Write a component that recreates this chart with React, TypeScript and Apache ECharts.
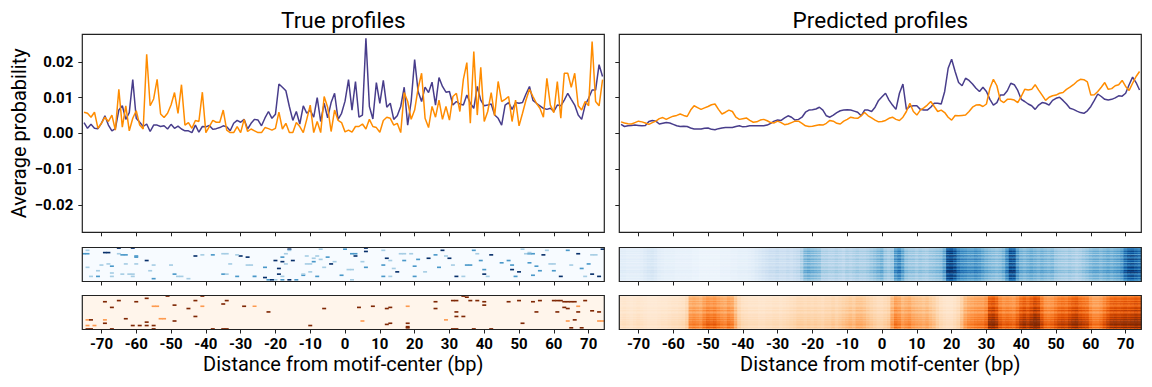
import React, { useEffect, useRef } from "react";
import * as echarts from "echarts";

// ---------- DATA ----------
// genomic positions (bp from motif center), one per column
const positions: string[] = [];
for (let p = -75; p <= 74; p++) positions.push(String(p));
const xTickLabels = [-70, -60, -50, -40, -30, -20, -10, 0, 10, 20, 30, 40, 50, 60, 70];
const yTickValues = [-0.02, -0.01, 0, 0.01, 0.02];
const rowCount = 30;

// average probability ×1e-3, positions -75..74
const truePurple = [
  3.0, 1.4, 2.5, 1.4, 1.3, 2.8, 4.9, 2.3, 0.7, 1.3,
  6.5, 7.7, 3.9, 5.8, 15.0, 4.2, 3.1, 1.9, 2.6, 0.5,
  2.3, 2.3, 1.9, 2.1, 1.2, 2.5, 1.4, 2.0, 1.2, 0.7,
  0.7, 0.2, 2.3, 0.3, 1.9, 1.8, 2.2, 1.1, 1.3, 1.6,
  2.1, 1.8, 0.7, 2.8, 3.6, 3.1, 3.9, 1.2, 2.8, 3.9,
  3.7, 2.1, 4.3, 6.1, 4.2, 5.3, 13.8, 12.9, 11.9, 7.5,
  3.6, 6.1, 2.6, 7.7, 5.6, 6.5, 4.5, 10.0, 3.3, 8.4,
  4.3, 8.6, 11.2, 3.9, 5.6, 9.0,
  15.0, 6.5, 14.5, 4.5, 5.1, 26.6, 7.5, 4.0, 14.2, 8.4,
  14.8, 7.3, 8.4, 3.9, 4.9, 7.5, 12.9, 2.3, 8.9, 20.6,
  11.7, 8.9, 12.9, 11.4, 14.3, 7.9, 15.6, 13.1, 11.5, 11.7,
  7.9, 8.9, 8.2, 7.9, 10.7, 8.4, 7.0, 13.1, 9.3, 7.7,
  7.9, 8.2, 5.1, 4.2, 2.3, 7.9, 8.6, 6.7, 8.6, 8.4,
  8.6, 11.0, 13.1, 9.2, 8.4, 7.7, 7.0, 6.7, 7.0, 6.1,
  7.9, 7.7, 9.3, 11.2, 9.5, 7.9, 5.1, 3.9, 7.9, 9.8,
  12.1, 12.1, 19.2, 15.9,
];
const trueOrange = [
  5.9, 5.6, 4.5, 5.9, 1.4, 2.8, 4.5, 3.3, 5.1, 0.9,
  12.3, 1.7, 7.7, 0.7, 4.2, 6.3, 2.3, 1.2, 22.1, 7.7,
  9.6, 15.1, 5.4, 4.4, 5.6, 7.9, 11.4, 5.6, 13.6, 2.3,
  3.0, 1.4, 3.6, 3.3, 11.5, 0.2, 1.9, 3.6, 3.1, 3.1,
  6.5, 0.9, 0.2, 0.2, 1.9, 0.2, 3.9, 0.5, 1.2, 0.7,
  0.2, 0.2, 1.6, 1.3, 0.9, 1.4, 5.9, 1.2, 2.8, 0.2,
  0.2, 3.0, 1.9, 0.2, 3.9, 7.9, 0.2, 3.3, 0.2, 10.3,
  7.3, 0.5, 6.5, 3.6, 3.0, 0.4,
  0.9, 0.3, 1.9, 1.9, 2.6, 1.2, 3.9, 1.9, 1.6, 0.3,
  3.6, 4.5, 4.2, 2.3, 2.8, 0.2, 11.4, 8.9, 3.9, 6.5,
  12.6, 16.8, 4.2, 1.6, 7.5, 4.5, 9.3, 3.9, 7.5, 3.7,
  10.3, 11.2, 6.1, 15.1, 19.8, 2.8, 22.9, 5.1, 18.5, 3.3,
  6.1, 11.4, 4.9, 14.5, 8.9, 9.5, 10.3, 3.3, 9.3, 2.1,
  5.6, 9.3, 12.3, 10.3, 8.4, 7.0, 4.5, 15.4, 7.9, 5.8,
  14.5, 4.2, 16.8, 16.8, 12.9, 16.8, 7.7, 6.5, 8.9, 7.7,
  25.7, 8.9, 7.7, 15.0,
];
const predPurple = [
  2.5, 1.9, 2.1, 2.2, 2.3, 2.2, 2.1, 2.2, 3.3, 3.6,
  3.4, 2.6, 2.8, 3.0, 2.9, 2.5, 2.1, 1.9, 2.0, 1.9,
  1.5, 1.2, 1.2, 1.2, 1.4, 1.5, 1.1, 1.0, 1.3, 1.5,
  1.6, 1.6, 1.6, 1.9, 2.1, 1.8, 1.9, 2.1, 2.1, 2.1,
  2.1, 2.1, 2.3, 2.8, 3.4, 3.7, 3.6, 4.3, 4.9, 4.5,
  3.7, 3.9, 4.5, 5.9, 6.5, 6.6, 6.8, 7.3, 6.5, 4.9,
  4.5, 5.1, 5.8, 6.3, 6.5, 6.6, 6.5, 6.2, 5.9, 4.9,
  6.5, 6.5, 6.1, 7.3, 9.2, 10.2,
  11.2, 9.3, 7.9, 6.7, 11.2, 13.8, 6.7, 7.5, 7.7, 7.7,
  6.7, 6.5, 6.5, 7.3, 8.4, 8.4, 8.2, 11.7, 18.2, 20.7,
  17.3, 14.2, 13.3, 15.4, 14.8, 13.8, 12.6, 11.7, 12.9, 11.7,
  9.5, 7.9, 8.6, 10.7, 10.7, 11.9, 14.0, 13.6, 12.0, 9.5,
  8.9, 8.2, 7.7, 6.7, 7.9, 8.6, 8.4, 7.9, 9.2, 9.8,
  10.1, 9.2, 8.2, 7.0, 6.7, 6.2, 5.8, 5.6, 6.3, 7.5,
  9.2, 11.0, 10.3, 9.5, 9.3, 9.5, 9.9, 10.5, 10.4, 11.2,
  13.6, 15.7, 14.2, 12.1,
];
const predOrange = [
  3.2, 2.9, 2.7, 2.6, 3.0, 3.4, 3.2, 2.9, 2.5, 3.0,
  3.4, 4.1, 4.4, 3.9, 4.4, 4.8, 5.0, 5.4, 5.0, 4.7,
  6.5, 7.7, 7.2, 6.7, 7.1, 7.5, 8.0, 8.2, 6.7, 5.4,
  5.9, 6.5, 6.1, 4.5, 3.9, 4.1, 4.3, 3.6, 3.1, 3.2,
  3.7, 3.9, 3.5, 3.0, 2.9, 3.4, 3.0, 2.4, 2.6, 3.0,
  3.4, 3.4, 2.8, 2.1, 1.9, 2.0, 2.2, 2.4, 2.3, 2.8,
  3.6, 3.4, 2.8, 2.6, 3.4, 3.9, 4.5, 4.3, 4.2, 4.9,
  5.8, 4.9, 4.3, 3.7, 3.2, 3.3,
  3.6, 4.2, 4.5, 3.9, 3.6, 4.5, 6.1, 8.4, 6.1, 5.1,
  6.5, 7.1, 7.9, 8.9, 7.5, 6.1, 6.5, 5.8, 4.5, 3.7,
  5.0, 4.9, 5.0, 5.1, 6.1, 7.3, 7.9, 8.0, 7.5, 8.2,
  12.6, 15.1, 13.3, 9.2, 8.6, 9.5, 9.5, 9.3, 8.6, 10.3,
  12.3, 12.1, 12.3, 13.6, 12.1, 10.7, 9.2, 10.1, 10.5, 10.7,
  11.2, 11.4, 12.3, 12.9, 13.6, 14.5, 15.1, 15.0, 14.4, 10.7,
  10.8, 11.7, 12.9, 14.2, 12.3, 12.5, 13.3, 13.6, 14.8, 13.1,
  12.0, 14.0, 15.9, 17.3,
];

// sparse true-profile heatmap cells: [position, row, level 0..1]
const trueBlueCells = [
  [-74, 2, 0.35], [-75, 5, 0.6], [-74, 5, 0.6], [-69, 4, 1], [-68, 4, 1], [-65, 5, 0.35], [-64, 6, 0.6], [-63, 6, 0.6],
  [-60, 7, 0.6], [-60, 8, 0.6], [-57, 11, 1], [-68, 14, 0.35], [-70, 15, 0.35], [-67, 16, 0.6], [-63, 14, 0.35], [-60, 14, 0.35],
  [-55, 15, 0.35], [-50, 15, 0.35], [-74, 17, 0.35], [-71, 20, 0.35], [-64, 23, 0.35], [-62, 23, 0.35], [-61, 23, 0.35], [-56, 20, 0.35],
  [-67, 22, 0.35], [-73, 25, 0.35], [-71, 25, 0.6], [-67, 25, 0.35], [-61, 25, 0.35], [-55, 27, 0.6], [-49, 23, 0.6], [-48, 25, 0.35],
  [-47, 25, 0.35], [-45, 27, 0.35], [-43, 7, 1], [-41, 6, 0.35], [-38, 6, 0.6], [-35, 5, 0.35], [-34, 5, 0.35], [-33, 14, 0.35],
  [-30, 7, 1], [-28, 8, 1], [-31, 6, 0.35], [-31, 25, 0.6], [-35, 23, 0.6], [-34, 23, 0.35], [-26, 25, 0.6], [-23, 26, 1],
  [-22, 28, 0.6], [-20, 28, 0.35], [-21, 28, 1], [-28, 15, 0.35], [-27, 15, 0.35], [-23, 17, 0.6], [-20, 11, 1], [-18, 12, 1],
  [-16, 1, 1], [-16, 2, 0.35], [-17, 5, 0.35], [-18, 8, 0.6], [-15, 11, 1], [-17, 14, 0.35], [-19, 23, 1], [-19, 18, 1],
  [-18, 25, 0.35], [-18, 28, 0.6], [-16, 28, 1], [-14, 28, 0.6], [-12, 24, 0.6], [-12, 23, 0.35], [-10, 21, 0.35], [-8, 25, 0.6],
  [-9, 12, 0.6], [-7, 1, 0.35], [-8, 7, 0.35], [-7, 10, 0.35], [-5, 8, 0.6], [-4, 14, 1], [-11, 14, 0.35], [-10, 14, 0.35],
  [-6, 17, 0.35], [-3, 12, 0.35], [-11, 7, 0.35], [-9, 9, 0.35], [-65, 0, 1], [-61, 0, 1],
  [0, 1, 0.6], [2, 5, 0.6], [3, 5, 0.6], [3, 7, 1], [6, 0, 1], [6, 3, 1], [5, 12, 0.35], [6, 17, 0.6],
  [1, 19, 0.35], [2, 19, 0.35], [-1, 24, 0.6], [2, 28, 0.35], [11, 2, 0.35], [12, 9, 1], [13, 11, 0.35], [11, 15, 0.6],
  [14, 18, 0.35], [15, 21, 1], [11, 25, 0.6], [13, 25, 0.35], [16, 5, 0.35], [17, 5, 0.35], [19, 5, 0.35], [17, 11, 0.6],
  [21, 10, 0.6], [20, 16, 0.6], [24, 9, 1], [23, 21, 0.35], [20, 25, 0.6], [26, 6, 0.6], [27, 17, 0.6], [28, 2, 1],
  [29, 7, 0.35], [30, 9, 1], [31, 15, 0.35], [32, 25, 1], [34, 25, 0.35], [37, 2, 0.6], [38, 5, 0.35], [35, 15, 0.6],
  [36, 15, 0.6], [39, 11, 0.6], [40, 23, 1], [40, 19, 0.6], [42, 6, 1], [41, 25, 0.35], [45, 13, 0.6], [47, 11, 0.6],
  [48, 15, 0.6], [48, 19, 1], [50, 21, 1], [49, 25, 0.6], [52, 5, 0.35], [53, 5, 0.6], [54, 5, 0.6], [53, 4, 0.35],
  [51, 1, 0.35], [53, 13, 0.6], [55, 16, 0.6], [57, 6, 1], [56, 20, 0.6], [54, 24, 0.6], [58, 2, 0.35], [59, 14, 0.35],
  [60, 14, 0.35], [60, 20, 0.6], [62, 25, 1], [64, 2, 0.6], [67, 5, 1], [65, 15, 0.35], [68, 18, 0.6], [70, 14, 0.6],
  [71, 23, 1], [71, 6, 0.35], [72, 6, 0.35], [73, 25, 1], [74, 1, 1], [69, 25, 0.35],
];
const trueOrangeCells = [
  [-69, 5, 1], [-67, 10, 1], [-65, 4, 1], [-60, 5, 1], [-57, 2, 1], [-55, 9, 0.45], [-54, 9, 0.45], [-49, 8, 1],
  [-45, 11, 1], [-43, 4, 1], [-41, 9, 0.45], [-35, 7, 1], [-34, 4, 1], [-29, 9, 1], [-26, 9, 0.45], [-22, 14, 1],
  [-6, 11, 1], [-74, 21, 0.45], [-73, 21, 1], [-69, 21, 0.45], [-69, 24, 1], [-74, 26, 0.45], [-72, 26, 0.45], [-74, 29, 1],
  [-73, 29, 1], [-67, 29, 1], [-63, 20, 1], [-61, 26, 1], [-57, 23, 1], [-59, 26, 1], [-57, 26, 1], [-55, 26, 1],
  [-55, 29, 1], [-53, 20, 0.45], [-52, 20, 0.45], [-49, 22, 1], [-43, 18, 1], [-38, 29, 1], [-35, 29, 1], [-34, 29, 1],
  [-10, 26, 1], [-51, 0, 1], [-41, 0, 1],
  [4, 10, 1], [8, 9, 1], [13, 10, 1], [12, 11, 1], [18, 9, 0.45], [26, 5, 1], [26, 11, 1], [31, 4, 1],
  [32, 4, 1], [32, 14, 1], [29, 21, 0.45], [32, 18, 1], [34, 18, 1], [35, 1, 1], [36, 4, 1], [38, 4, 1],
  [40, 8, 1], [40, 5, 1], [47, 5, 1], [50, 4, 1], [54, 5, 1], [56, 4, 1], [55, 14, 1], [51, 24, 1],
  [60, 4, 1], [61, 4, 1], [62, 4, 1], [63, 5, 1], [64, 5, 1], [65, 5, 1], [66, 5, 1], [63, 10, 1],
  [64, 11, 1], [67, 9, 0.45], [67, 14, 1], [61, 14, 1], [69, 4, 1], [71, 13, 1], [73, 14, 1], [66, 21, 1],
  [64, 22, 0.45], [73, 22, 0.45], [74, 22, 0.45], [65, 28, 1], [68, 28, 1], [18, 27, 1], [18, 28, 1], [18, 24, 1],
  [13, 24, 1], [12, 25, 1], [5, 22, 0.45], [31, 29, 1], [32, 29, 1], [37, 29, 1], [42, 29, 1], [34, 0, 1],
];

// predicted heatmaps: column intensity (positions -75..74) and row modulation (top→bottom)
const predBlueColumns = [
  0.1, 0.1, 0.09, 0.09, 0.09, 0.09, 0.1, 0.12,
  0.14, 0.15, 0.13,
  0.1, 0.09, 0.08, 0.08, 0.08, 0.07, 0.07, 0.07, 0.07, 0.07,
  0.06, 0.06, 0.05, 0.05, 0.05, 0.05, 0.05, 0.05, 0.06, 0.06,
  0.06, 0.07, 0.07, 0.08, 0.08, 0.08, 0.09, 0.1, 0.12, 0.14,
  0.16, 0.18, 0.2, 0.2, 0.22, 0.2, 0.2, 0.22, 0.2, 0.22,
  0.24, 0.3, 0.42, 0.45, 0.42, 0.4, 0.38, 0.3, 0.3, 0.28,
  0.28, 0.3, 0.28, 0.26, 0.3, 0.28, 0.3, 0.32, 0.3, 0.3,
  0.32, 0.35, 0.38, 0.42, 0.45, 0.35, 0.32, 0.35, 0.55, 0.62,
  0.5, 0.38, 0.35, 0.35, 0.32, 0.35, 0.33, 0.32, 0.35, 0.36,
  0.38, 0.4, 0.5, 0.85, 0.9, 0.8, 0.65, 0.6, 0.58, 0.55,
  0.55, 0.58, 0.55, 0.5, 0.45, 0.42, 0.4, 0.38, 0.4, 0.45,
  0.6, 0.82, 0.8, 0.55, 0.45, 0.42, 0.45, 0.48, 0.45, 0.42,
  0.45, 0.42, 0.4, 0.42, 0.36, 0.34, 0.33, 0.32, 0.34, 0.32,
  0.3, 0.32, 0.35, 0.38, 0.42, 0.45, 0.45, 0.42, 0.45, 0.48,
  0.45, 0.48, 0.5, 0.55, 0.7, 0.78, 0.8, 0.75, 0.7,
];
const predBlueRows = [
  0.75, 1.0, 0.85, 1.2, 0.9, 1.1, 0.75, 1.25, 1.0, 0.8,
  1.3, 0.9, 1.1, 0.75, 1.2, 1.0, 0.85, 1.25, 1.1, 0.9,
  1.3, 1.15, 1.35, 0.85, 1.0, 1.25, 0.8, 1.1, 0.9, 0.85,
];
const predOrangeColumns = [
  0.12, 0.13, 0.12, 0.11, 0.12, 0.13, 0.12, 0.11, 0.1, 0.1,
  0.1, 0.11, 0.12, 0.12, 0.13, 0.14, 0.14, 0.15, 0.16, 0.2,
  0.4, 0.42, 0.4, 0.38, 0.45, 0.5, 0.48, 0.5, 0.45, 0.42,
  0.4, 0.45, 0.42, 0.3, 0.2, 0.16, 0.15, 0.14, 0.14, 0.14,
  0.13, 0.13, 0.14, 0.14, 0.15, 0.15, 0.14, 0.15, 0.16, 0.17,
  0.18, 0.2, 0.2, 0.19, 0.2, 0.19, 0.2, 0.19, 0.18, 0.2,
  0.2, 0.22, 0.2, 0.22, 0.24, 0.26, 0.28, 0.26, 0.3, 0.3,
  0.28, 0.25, 0.22, 0.2, 0.18, 0.18, 0.2, 0.22, 0.35, 0.45,
  0.42, 0.35, 0.38, 0.4, 0.35, 0.33, 0.32, 0.3, 0.32, 0.28,
  0.25, 0.2, 0.16, 0.14, 0.13, 0.13, 0.15, 0.18, 0.25, 0.35,
  0.4, 0.42, 0.44, 0.45, 0.45, 0.5, 0.72, 0.75, 0.68, 0.55,
  0.5, 0.52, 0.5, 0.48, 0.55, 0.65, 0.7, 0.65, 0.72, 0.8,
  0.75, 0.6, 0.5, 0.48, 0.5, 0.55, 0.6, 0.62, 0.6, 0.65,
  0.7, 0.72, 0.65, 0.62, 0.6, 0.5, 0.45, 0.45, 0.48, 0.55,
  0.62, 0.68, 0.7, 0.68, 0.7, 0.72, 0.7, 0.72, 0.75, 0.72,
];
const predOrangeRows = [
  0.7, 0.8, 0.9, 0.95, 0.8, 1.0, 0.85, 1.05, 0.9, 0.8,
  1.0, 1.1, 0.9, 1.15, 1.0, 0.9, 1.1, 1.2, 1.0, 1.25,
  1.1, 1.3, 1.15, 1.4, 1.2, 1.45, 1.3, 1.1, 1.4, 1.0,
];

// ---------- STYLE / LAYOUT ----------
const PURPLE = "#483d8b";
const ORANGE = "#ff8c00";
const BLUES = ["#f7fbff", "#deebf7", "#c6dbef", "#9ecae1", "#6baed6", "#4292c6", "#2171b5", "#08519c", "#08306b"];
const ORANGES = ["#fff5eb", "#fee6ce", "#fdd0a2", "#fdae6b", "#fd8d3c", "#f16913", "#d94801", "#a63603", "#7f2704"];
const FONT = "Roboto";
const LX = 82.3, RX = 619.3, PW = 522;
const LINE_TOP = 34.3, LINE_H = 198;
const HB_TOP = 247.5, HO_TOP = 295.5, HM_H = 34;

const rows: string[] = [];
for (let r = 0; r < rowCount; r++) rows.push(String(r));
const tickSet = new Set(xTickLabels.map(String));

const toSeries = (arr: number[]) => arr.map((v) => v / 1000);
const sparse = (cells: number[][]) => cells.map(([p, r, v]) => [p + 75, r, v]);
const dense = (cols: number[], rws: number[]) => {
  const out: number[][] = [];
  cols.forEach((c, i) => rws.forEach((f, j) => out.push([i, j, Math.min(1, c * f)])));
  return out;
};

const isTick = (_i: number, v: string) => tickSet.has(String(v));

export default function App() {
  const ref = useRef<HTMLDivElement>(null);
  useEffect(() => {
    if (!ref.current) return;
    const chart = echarts.init(ref.current, undefined, { renderer: "svg" });
    const grids = [
      { left: LX, top: LINE_TOP, width: PW, height: LINE_H },
      { left: RX, top: LINE_TOP, width: PW, height: LINE_H },
      { left: LX, top: HB_TOP, width: PW, height: HM_H },
      { left: LX, top: HO_TOP, width: PW, height: HM_H },
      { left: RX, top: HB_TOP, width: PW, height: HM_H },
      { left: RX, top: HO_TOP, width: PW, height: HM_H },
    ];
    const bgs = ["#fff", "#fff", BLUES[0], ORANGES[0], BLUES[0], ORANGES[0]];
    const xAxis = grids.map((_, gi) => ({
      type: "category",
      gridIndex: gi,
      data: positions,
      boundaryGap: true,
      position: "bottom",
      axisLine: { show: false, onZero: false },
      axisTick: { show: true, interval: isTick, alignWithLabel: true, length: 4, lineStyle: { color: "#222", width: 1 } },
      axisLabel: {
        show: gi === 3 || gi === 5,
        interval: isTick,
        margin: 7,
        fontFamily: FONT,
        fontSize: 15,
        fontWeight: "bold",
        color: "#000",
      },
      splitLine: { show: false },
    }));
    const yAxis = grids.map((_, gi) =>
      gi < 2
        ? {
            type: "value",
            gridIndex: gi,
            min: -0.0277,
            max: 0.0277,
            axisLine: { show: false },
            splitLine: { show: false },
            axisTick: { show: true, customValues: yTickValues, length: 4, lineStyle: { color: "#222", width: 1 } },
            axisLabel: {
              show: gi === 0,
              customValues: yTickValues,
              margin: 9,
              fontFamily: FONT,
              fontSize: 15,
              fontWeight: "bold",
              color: "#000",
              formatter: (v: number) => (v < 0 ? "\u2212" : "") + Math.abs(v).toFixed(2),
            },
          }
        : { type: "category", gridIndex: gi, data: rows, inverse: true, show: false }
    );
    const frames = grids.map((g) => ({
      type: "rect",
      z: 100,
      shape: { x: g.left, y: g.top, width: g.width, height: g.height },
      style: { fill: "none", stroke: "#222", lineWidth: 1.2 },
      silent: true,
    }));
    const backgrounds = grids.map((g, i) => ({
      type: "rect",
      z: -10,
      shape: { x: g.left, y: g.top, width: g.width, height: g.height },
      style: { fill: bgs[i] },
      silent: true,
    }));
    const text = (t: string, x: number, y: number, size: number, rot = 0) => ({
      type: "text",
      x,
      y,
      rotation: rot,
      z: 100,
      style: { text: t, fontFamily: FONT, fontSize: size, fill: "#000", align: "center", verticalAlign: "middle" },
    });
    const option: any = {
      animation: false,
      grid: grids,
      xAxis,
      yAxis,
      visualMap: [
        { type: "continuous", show: false, min: 0, max: 1, seriesIndex: [4, 6], inRange: { color: BLUES } },
        { type: "continuous", show: false, min: 0, max: 1, seriesIndex: [5, 7], inRange: { color: ORANGES } },
      ],
      series: [
        { type: "line", xAxisIndex: 0, yAxisIndex: 0, data: toSeries(truePurple), symbol: "none", lineStyle: { color: PURPLE, width: 1.5 }, itemStyle: { color: PURPLE } },
        { type: "line", xAxisIndex: 0, yAxisIndex: 0, data: toSeries(trueOrange), symbol: "none", lineStyle: { color: ORANGE, width: 1.5 }, itemStyle: { color: ORANGE } },
        { type: "line", xAxisIndex: 1, yAxisIndex: 1, data: toSeries(predPurple), symbol: "none", lineStyle: { color: PURPLE, width: 1.5 }, itemStyle: { color: PURPLE } },
        { type: "line", xAxisIndex: 1, yAxisIndex: 1, data: toSeries(predOrange), symbol: "none", lineStyle: { color: ORANGE, width: 1.5 }, itemStyle: { color: ORANGE } },
        { type: "heatmap", xAxisIndex: 2, yAxisIndex: 2, data: sparse(trueBlueCells) },
        { type: "heatmap", xAxisIndex: 3, yAxisIndex: 3, data: sparse(trueOrangeCells) },
        { type: "heatmap", xAxisIndex: 4, yAxisIndex: 4, data: dense(predBlueColumns, predBlueRows) },
        { type: "heatmap", xAxisIndex: 5, yAxisIndex: 5, data: dense(predOrangeColumns, predOrangeRows) },
      ],
      graphic: [
        ...backgrounds,
        ...frames,
        text("True profiles", LX + PW / 2, 19.5, 22.5),
        text("Predicted profiles", RX + PW / 2, 19.5, 22.5),
        text("Average probability", 19, LINE_TOP + LINE_H / 2, 20, Math.PI / 2),
        text("Distance from motif-center (bp)", LX + PW / 2, 364, 20),
        text("Distance from motif-center (bp)", RX + PW / 2, 364, 20),
      ],
    };
    chart.setOption(option);
    return () => chart.dispose();
  }, []);
  return <div ref={ref} style={{ position: "absolute", left: 0, top: 0, width: 1152, height: 387 }} />;
}
